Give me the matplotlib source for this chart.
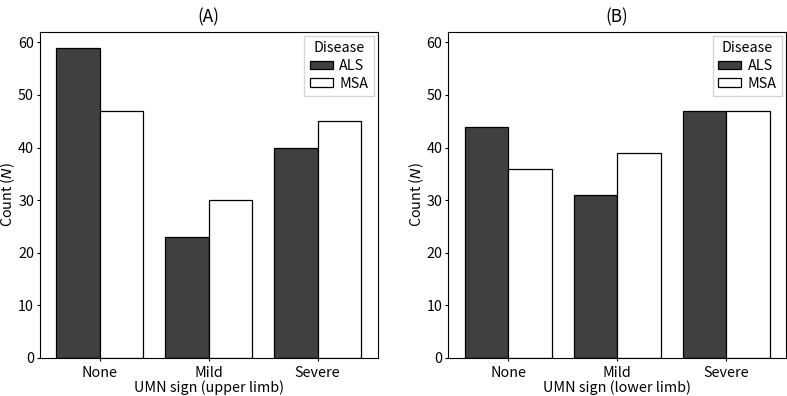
import matplotlib
matplotlib.use("Agg")
import matplotlib.pyplot as plt
import numpy as np

plt.rcParams["font.family"] = ["Noto Sans CJK JP", "DejaVu Sans"]
plt.rcParams["font.size"] = 10.3

categories = ["None", "Mild", "Severe"]
upper_als = [59, 23, 40]
upper_msa = [47, 30, 45]
lower_als = [44, 31, 47]
lower_msa = [36, 39, 47]

PANELS = [
    ("(A)", "UMN sign (upper limb)", upper_als, upper_msa),
    ("(B)", "UMN sign (lower limb)", lower_als, lower_msa),
]

fig, axes = plt.subplots(1, 2, figsize=(7.87, 3.96), dpi=100)
x = np.arange(len(categories))
width = 0.4

for ax, (title, xlabel, als, msa) in zip(axes, PANELS):
    ax.bar(x - width / 2, als, width, color="#404040", edgecolor="black",
           linewidth=0.9, label="ALS")
    ax.bar(x + width / 2, msa, width, color="white", edgecolor="black",
           linewidth=0.9, label="MSA")
    ax.set_xticks(x)
    ax.set_xticklabels(categories)
    ax.set_xlim(-0.55, 2.55)
    ax.set_ylim(0, 61.95)
    ax.set_yticks(range(0, 61, 10))
    ax.tick_params(length=2.5, pad=1.8)
    ax.tick_params(axis="x", pad=3)
    ax.set_xlabel(xlabel, labelpad=0.5)
    ax.set_ylabel("Count ($N$)", labelpad=0.5)
    ax.set_title(title, pad=7)
    ax.legend(title="Disease", loc="upper right", fancybox=False,
              fontsize=10.3, title_fontsize=10.3,
              handlelength=1.6, handleheight=0.55, handletextpad=0.45,
              labelspacing=0.25, borderpad=0.4, borderaxespad=0.25)

fig.subplots_adjust(left=0.0508, right=0.9987, top=0.919, bottom=0.096, wspace=0.21)
fig.savefig("out.png", dpi=100)
